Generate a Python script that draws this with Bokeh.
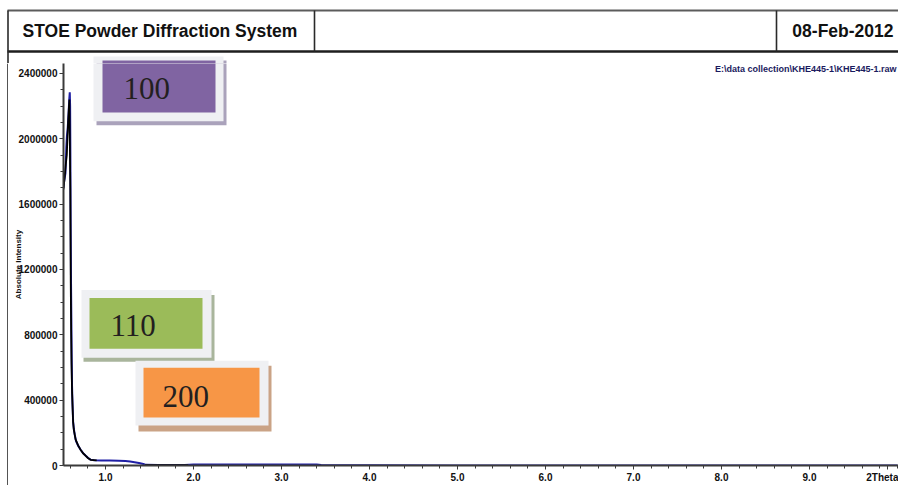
import numpy as np
from bokeh.plotting import figure
from bokeh.models import ColumnDataSource, Range1d, FixedTicker, BoxAnnotation, Label
from bokeh.layouts import column, row
from bokeh.embed import file_html
from bokeh.resources import INLINE

# ---------------- data ----------------
two_theta_blue = [0.522, 0.530, 0.545, 0.555, 0.562, 0.570, 0.580, 0.588, 0.594, 0.598,
                  0.601, 0.604, 0.608, 0.612, 0.616, 0.620, 0.625, 0.632, 0.640, 0.650,
                  0.665, 0.690, 0.716, 0.745, 0.773, 0.800, 0.830, 0.870, 0.950, 1.050,
                  1.150, 1.227, 1.280, 1.330, 1.380, 1.430, 1.460, 1.600, 1.900, 2.000,
                  2.500, 3.000, 3.400, 3.450, 3.500, 4.0, 5.0, 6.0, 7.0, 8.0, 9.0, 10.0]
intensity_blue = [1700000, 1740000, 1790000, 1950000, 2020000, 2060000, 2150000, 2240000, 2285000, 2200000,
                  1900000, 1500000, 1130000, 900000, 650000, 480000, 380000, 270000, 225000, 190000,
                  150000, 120000, 98000, 76000, 61000, 47000, 36000, 32000, 30500, 30000,
                  29500, 28000, 25000, 20000, 15000, 9000, 4000, 3500, 3000, 6000,
                  6000, 6000, 6000, 2500, 1000, 800, 700, 600, 600, 500, 500, 500]

two_theta_black = [0.522, 0.535, 0.550, 0.560, 0.575, 0.585, 0.590, 0.600, 0.605, 0.610,
                   0.614, 0.620, 0.625, 0.632, 0.640, 0.660, 0.690, 0.716, 0.745, 0.773,
                   0.800, 0.830, 0.900, float("nan"), 1.450, 1.940]
intensity_black = [1690000, 1760000, 1850000, 1900000, 2100000, 2200000, 2240000, 1700000, 1120000, 800000,
                   620000, 450000, 372000, 265000, 220000, 160000, 122000, 97000, 75000, 60000,
                   46000, 35000, 31000, float("nan"), 2000, 2000]

x_ticks = [1.0, 2.0, 3.0, 4.0, 5.0, 6.0, 7.0, 8.0, 9.0]
x_tick_labels = ["1.0", "2.0", "3.0", "4.0", "5.0", "6.0", "7.0", "8.0", "9.0"]
y_ticks = [0, 400000, 800000, 1200000, 1600000, 2000000, 2400000]
y_tick_labels = ["0", "400000", "800000", "1200000", "1600000", "2000000", "2400000"]

peak_labels = ["100", "110", "200"]
peak_colors = ["#8064a2", "#9bbb59", "#f79646"]
shadow_colors = ["#aaa2bb", "#a9b59c", "#caa386"]

title_text = "STOE Powder Diffraction System"
date_text = "08-Feb-2012"
file_text = "E:\\data collection\\KHE445-1\\KHE445-1.raw"
x_label = "2Theta"
y_label = "Absolute Intensity"

# ---------------- layout (page pixels) ----------------
PAGE_W, PAGE_H = 898, 485
HEAD_H = 63          # header strip height (frame top of the chart)
STRIP_W = 8          # left border strip
FRAME_LEFT = 63
FRAME_BOTTOM = 466


def dx(px):  # page pixel -> 2theta
    return 1.0 + (px - 105) / 88.0


def dy(py):  # page pixel -> intensity
    return (FRAME_BOTTOM - py) * 400000 / 65.5


# peak label boxes: (left, right, top, bottom) in page pixels
boxes = [
    dict(outer=(93, 223, 56, 121), inner=(102, 215, 60, 112), shadow=(96, 226, 60, 125), text=(123, 88)),
    dict(outer=(81, 211, 290, 358), inner=(89, 202, 298, 349), shadow=(83, 214, 295, 362), text=(110, 326)),
    dict(outer=(135, 268, 361, 426), inner=(143, 259, 368, 418), shadow=(138, 271, 366, 432), text=(162, 397)),
]

# ---------------- header ----------------
h = figure(width=PAGE_W, height=HEAD_H, x_range=Range1d(0, PAGE_W), y_range=Range1d(HEAD_H, 0),
           output_backend="svg", toolbar_location=None, x_axis_type=None, y_axis_type=None,
           min_border=0, min_border_left=0, min_border_right=0, min_border_top=0, min_border_bottom=0,
           frame_align=False)
h.outline_line_color = None
h.grid.visible = False
h.segment(x0=[7], y0=[10], x1=[PAGE_W], y1=[10], line_color="#5c5c5c", line_width=2)
h.segment(x0=[7], y0=[51], x1=[PAGE_W], y1=[51], line_color="#1e1e1e", line_width=2.5)
h.segment(x0=[7.5, 314, 776], y0=[10, 10, 10], x1=[7.5, 314, 776], y1=[HEAD_H, 51, 51],
          line_color="#2a2a2a", line_width=1.6)
h.add_layout(Label(x=22, y=30, text=title_text, text_font="Liberation Sans", text_font_style="bold",
                   text_font_size="17.5px", text_baseline="middle", text_color="#111111"))
h.add_layout(Label(x=893, y=30, text=date_text, text_font="Liberation Sans", text_font_style="bold",
                   text_font_size="17.5px", text_baseline="middle", text_align="right", text_color="#111111"))
# tops of the label boxes that stick up into the header strip
for col, sh, b in zip(peak_colors, shadow_colors, boxes):
    for key, color in (("shadow", sh), ("outer", "#eff0f3"), ("inner", col)):
        l, r, t, bt = b[key]
        h.add_layout(BoxAnnotation(left=l, right=r, top=t, bottom=bt,
                                   fill_color=color, fill_alpha=1, line_color=None))

# ---------------- left border strip ----------------
s = figure(width=STRIP_W, height=PAGE_H - HEAD_H, x_range=Range1d(0, STRIP_W),
           y_range=Range1d(0, PAGE_H - HEAD_H), output_backend="svg", toolbar_location=None,
           x_axis_type=None, y_axis_type=None, min_border=0, min_border_left=0, min_border_right=0,
           min_border_top=0, min_border_bottom=0, frame_align=False)
s.outline_line_color = None
s.grid.visible = False
s.segment(x0=[7.5], y0=[0], x1=[7.5], y1=[PAGE_H - HEAD_H], line_color="#2a2a2a", line_width=1.6)

# ---------------- main chart ----------------
p = figure(width=PAGE_W - STRIP_W, height=PAGE_H - HEAD_H,
           x_range=Range1d(dx(FRAME_LEFT), dx(PAGE_W)), y_range=Range1d(0, dy(HEAD_H)),
           output_backend="svg", toolbar_location=None,
           min_border_left=FRAME_LEFT - STRIP_W, min_border_right=0, min_border_top=0,
           min_border_bottom=PAGE_H - FRAME_BOTTOM, frame_align=False)
p.outline_line_color = None
p.grid.visible = False

src_blue = ColumnDataSource(dict(x=two_theta_blue, y=intensity_blue))
src_black = ColumnDataSource(dict(x=two_theta_black, y=intensity_black))
p.line("x", "y", source=src_blue, line_color="#1f1fa5", line_width=2)
p.line("x", "y", source=src_black, line_color="#000000", line_width=1.8)

x_title_pos = dx(887)
x_minor = [round(v, 1) for v in np.arange(0.6, 10.01, 0.2)]
y_minor = list(range(0, 2400001, 100000))
p.xaxis.ticker = FixedTicker(ticks=x_ticks + [x_title_pos], minor_ticks=x_minor)
p.yaxis.ticker = FixedTicker(ticks=y_ticks, minor_ticks=y_minor)
xo = {t: l for t, l in zip(x_ticks, x_tick_labels)}
xo[x_title_pos] = x_label
p.xaxis.major_label_overrides = xo
p.yaxis.major_label_overrides = {t: l for t, l in zip(y_ticks, y_tick_labels)}

for ax in (p.xaxis[0], p.yaxis[0]):
    ax.axis_line_width = 2
    ax.axis_line_color = "#3a3a3a"
    ax.major_tick_line_color = "#3a3a3a"
    ax.minor_tick_line_color = "#3a3a3a"
    ax.major_tick_in = 0
    ax.major_tick_out = 4
    ax.minor_tick_in = 0
    ax.minor_tick_out = 3
    ax.major_label_text_font = "Liberation Sans"
    ax.major_label_text_font_style = "bold"
    ax.major_label_text_font_size = "10px"
    ax.major_label_text_color = "#111111"
    ax.major_label_standoff = 2

p.xaxis.axis_label = None
p.xaxis.axis_label_standoff = 0
p.yaxis.axis_label = y_label
p.yaxis.axis_label_text_font = "Liberation Sans"
p.yaxis.axis_label_text_font_style = "bold"
p.yaxis.axis_label_text_font_size = "8px"
p.yaxis.axis_label_text_color = "#111111"
p.yaxis.axis_label_standoff = -7

for lab, col, sh, b in zip(peak_labels, peak_colors, shadow_colors, boxes):
    for key, color in (("shadow", sh), ("outer", "#eff0f3"), ("inner", col)):
        l, r, t, bt = b[key]
        p.add_layout(BoxAnnotation(left=dx(l), right=dx(r), top=dy(t), bottom=dy(bt),
                                   fill_color=color, fill_alpha=1, line_color=None))
    tx, ty = b["text"]
    p.add_layout(Label(x=dx(tx), y=dy(ty), text=lab, text_font="Liberation Serif",
                       text_font_size="31px", text_baseline="middle", text_color="#231f20"))

p.add_layout(Label(x=dx(896), y=dy(69), text=file_text, text_font="Liberation Sans",
                   text_font_style="bold", text_font_size="9px", text_align="right",
                   text_baseline="middle", text_color="#1a1a5e"))

layout = column(h, row(s, p, spacing=0), spacing=0)
open("out.html", "w").write(file_html(layout, INLINE))
